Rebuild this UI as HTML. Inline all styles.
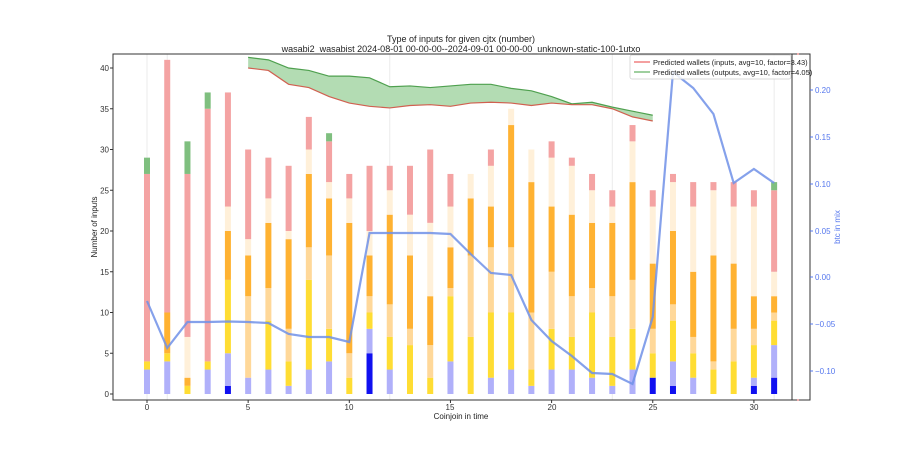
<!DOCTYPE html>
<html><head><meta charset="utf-8"><style>
body{margin:0;background:#fff;width:900px;height:450px;overflow:hidden;font-family:"Liberation Sans",sans-serif}
svg text{font-family:"Liberation Sans",sans-serif}
</style></head><body>
<svg id="s" width="900" height="450" xmlns="http://www.w3.org/2000/svg">
<rect width="900" height="450" fill="#fff"/>
<g id="grid" stroke="#ebebeb" stroke-width="1"></g>
<g id="bars"></g>
<g id="fill"></g>
<rect x="113" y="54" width="697" height="346" fill="none" stroke="#333" stroke-width="1"/>
<line x1="792" y1="54" x2="792" y2="400" stroke="#333" stroke-width="1"/>
<g id="ticks" stroke="#333"></g>
<g font-size="8" fill="#333" text-anchor="end">
<text x="109" y="397">0</text><text x="109" y="316">5</text><text x="109" y="234">10</text><text x="109" y="153">15</text><text x="109" y="71">20</text>
</g>
<g font-size="8" fill="#333" text-anchor="end" id="ylab">
<text x="109" y="397">0</text><text x="109" y="316">5</text><text x="109" y="234">10</text><text x="109" y="153">15</text><text x="109" y="71">20</text>
</g>
<g font-size="8" fill="#333" text-anchor="middle">
<text x="147" y="410">0</text><text x="248" y="410">5</text><text x="349" y="410">10</text><text x="450" y="410">15</text><text x="552" y="410">20</text><text x="653" y="410">25</text><text x="754" y="410">30</text>
</g>
<g font-size="8" fill="#5577ee">
<text x="815" y="93">0.20</text><text x="815" y="140">0.15</text><text x="815" y="187">0.10</text><text x="815" y="234">0.05</text><text x="815" y="280">0.00</text><text x="815" y="327">−0.05</text><text x="815" y="374">−0.10</text>
</g>
<text x="840" y="227" font-size="8" fill="#5577ee" text-anchor="middle" transform="rotate(-90 840 227)">btc in mix</text>
<text x="97" y="227" font-size="8" fill="#222" text-anchor="middle" transform="rotate(-90 97 227)">Number of inputs</text>
<text x="461" y="419" font-size="8" fill="#222" text-anchor="middle">Coinjoin in time</text>
<text x="461" y="42" font-size="9" fill="#222" text-anchor="middle">Type of inputs for given cjtx (number)</text>
<text x="461" y="52" font-size="9" fill="#222" text-anchor="middle">wasabi2_wasabist 2024-08-01 00-00-00--2024-09-01 00-00-00_unknown-static-100-1utxo</text>
<g id="line"></g>
<rect x="630" y="55" width="161" height="24" fill="#fff" fill-opacity="0.85" stroke="#ccc" stroke-width="0.7" rx="2"/>
<line x1="634" y1="62" x2="650" y2="62" stroke="#f08080" stroke-width="1.5"/>
<line x1="634" y1="72" x2="650" y2="72" stroke="#7fbf7f" stroke-width="1.5"/>
<text x="653" y="65" font-size="7.5" fill="#222">Predicted wallets (inputs, avg=10, factor=3.43)</text>
<text x="653" y="75" font-size="7.5" fill="#222">Predicted wallets (outputs, avg=10, factor=4.05)</text>
<line x1="797" y1="54" x2="799" y2="54" stroke="#e06060"/><line x1="797" y1="400" x2="799" y2="400" stroke="#e06060"/>
</svg>
<script>
var NS="http://www.w3.org/2000/svg";
function el(p,t,a){var e=document.createElementNS(NS,t);for(var k in a)e.setAttribute(k,a[k]);document.getElementById(p).appendChild(e);return e;}
function X(i){return 147+20.23*i;}function Y(v){return 394-8.15*v;}
document.getElementById('ylab').innerHTML='';
// fix left labels
var yl=document.querySelectorAll('g')[4];
var L=[0,5,10,15,20,25,30,35,40];yl.innerHTML='';
L.forEach(function(v){var t=document.createElementNS(NS,'text');t.setAttribute('x',109);t.setAttribute('y',Y(v)+3);t.textContent=v;yl.appendChild(t);el('ticks','line',{x1:110,x2:113,y1:Y(v),y2:Y(v)});});
[0,5,10,15,20,25,30].forEach(function(i){el('ticks','line',{x1:X(i),x2:X(i),y1:400,y2:403});});
[90,137,184,231,277,324,371].forEach(function(y){el('ticks','line',{x1:810,x2:813,y1:y,y2:y,stroke:'#5577ee'});});
[1,12,23,31].forEach(function(i){el('grid','line',{x1:X(i),x2:X(i),y1:54,y2:400});});
el('grid','line',{x1:X(0),x2:X(0),y1:54,y2:400});
var C={b:'#1010f0',lb:'#b0b0fa',y:'#ffdd33',lo:'#ffd899',o:'#ffb232',c:'#fff0d9',p:'#f4a3a3',g:'#7fbf7f'};
var B=[
[['lb',3],['y',4],['p',27],['g',29]],
[['lb',4],['y',5],['o',10],['p',41]],
[['y',1],['o',2],['c',7],['p',27],['g',31]],
[['lb',3],['y',4],['p',35],['g',37]],
[['b',1],['lb',5],['y',14],['o',20],['c',23],['p',37]],
[['lb',2],['lo',12],['o',17],['c',19],['p',30]],
[['lb',3],['y',9],['lo',13],['o',21],['c',24],['p',29]],
[['lb',1],['y',4],['lo',8],['o',19],['c',20],['p',28]],
[['lb',3],['y',14],['lo',18],['o',27],['c',30],['p',34]],
[['lb',4],['y',8],['lo',17],['o',24],['c',26],['p',31],['g',32]],
[['y',2],['lo',5],['o',21],['c',24],['p',27]],
[['b',5],['lb',8],['y',10],['lo',12],['o',17],['c',20],['p',28]],
[['lb',3],['y',7],['lo',11],['o',22],['c',25],['p',28]],
[['y',6],['lo',8],['o',17],['c',22],['p',28]],
[['y',2],['lo',6],['o',12],['c',21],['p',30]],
[['lb',4],['y',12],['lo',13],['o',18],['c',23],['p',27]],
[['y',7],['lo',17],['o',24],['c',27]],
[['lb',2],['y',10],['lo',18],['o',23],['c',28],['p',30]],
[['lb',3],['y',10],['lo',18],['o',33],['c',35]],
[['lb',1],['y',3],['lo',10],['o',26],['c',30]],
[['lb',3],['y',8],['lo',15],['o',23],['c',29],['p',31]],
[['lb',3],['y',7],['lo',12],['o',22],['c',28],['p',29]],
[['lb',2],['y',10],['lo',13],['o',21],['c',25],['p',27]],
[['lb',1],['y',7],['lo',12],['o',21],['c',23],['p',25]],
[['lb',3],['y',8],['lo',14],['o',26],['c',31],['p',33]],
[['b',2],['y',5],['lo',8],['o',16],['c',23],['p',25]],
[['b',1],['lb',4],['y',9],['lo',11],['o',20],['c',26],['p',27]],
[['lb',2],['y',5],['lo',7],['o',15],['c',23],['p',26]],
[['y',3],['lo',4],['o',17],['c',25],['p',26]],
[['y',4],['lo',8],['o',16],['c',23],['p',26]],
[['b',1],['lb',2],['y',6],['lo',8],['o',12],['c',23],['p',25]],
[['b',2],['lb',6],['y',9],['lo',10],['o',12],['c',15],['p',25],['g',26]]];
B.forEach(function(bar,i){var prev=0;bar.forEach(function(s){el('bars','rect',{x:X(i)-3,y:Y(s[1]),width:6,height:Y(prev)-Y(s[1]),fill:C[s[0]]});prev=s[1];});});
var R=[40,39.7,38,37.6,36.5,35.7,35.3,35.1,35.4,35.5,35.3,35.7,35.8,35.7,35.4,35.7,35.5,35.5,35,34,33.5];
var G=[41.3,41,40,39.7,39,39,38.8,37.7,37.8,37.6,37.8,38,38,37.5,37.2,36.5,35.6,35.8,35.2,34.7,34.2];
var up=G.map(function(v,k){return X(k+5)+','+Y(v);}),lo=R.map(function(v,k){return X(k+5)+','+Y(v);});
el('fill','polygon',{points:up.concat(lo.slice().reverse()).join(' '),fill:'#b3dcb3'});
el('fill','polyline',{points:up.join(' '),fill:'none',stroke:'#4fa04f','stroke-width':1.2});
el('fill','polyline',{points:lo.join(' '),fill:'none',stroke:'#d06050','stroke-width':1.2});
var P=[301,348,322,322,321.5,322,323,334,337,337,342,233,233,233,233,234,254,273,275,320,341,356,373,374,384,317,72,88,114,183,169,183];
el('line','polyline',{points:P.map(function(y,i){return X(i)+','+y;}).join(' '),fill:'none',stroke:'#7090e8','stroke-width':2.2,'stroke-opacity':0.85});
</script>
</body></html>
